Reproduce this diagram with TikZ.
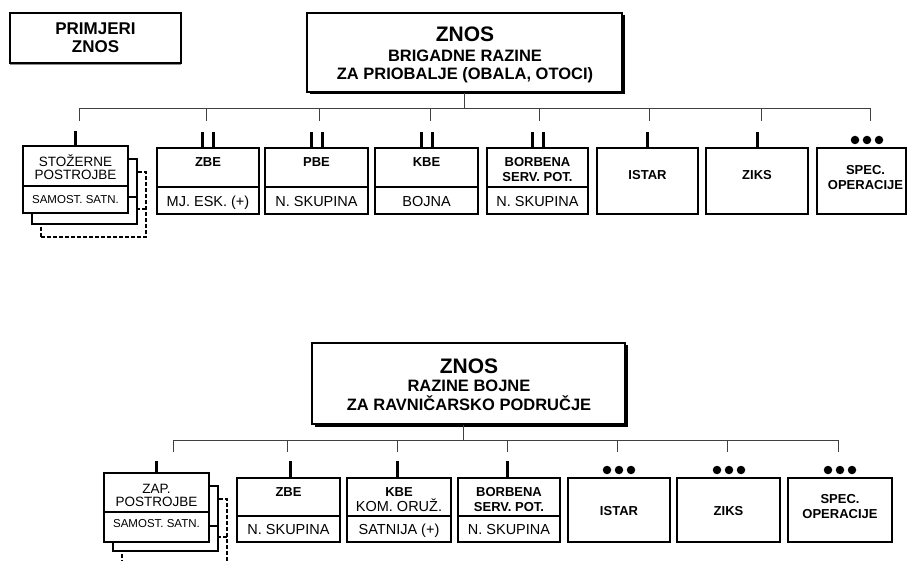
\documentclass[tikz,border=0pt]{standalone}
\usepackage{fontspec}
\setmainfont{Liberation Sans}
\usetikzlibrary{shadows}
\begin{document}
\begin{tikzpicture}[x=1pt,y=-1pt,
  box/.style={draw,rectangle,line width=1.8pt,fill=white,inner sep=0pt},
  stackback/.style={box,dash pattern=on 4pt off 2pt},
  bigbox/.style={box,line width=2pt,drop shadow={shadow xshift=2.5pt,shadow yshift=-2.5pt,opacity=1,fill=black}},
  divl/.style={line width=1.8pt},
  link/.style={draw=black!75,line width=0.9pt},
  tick/.style={line width=3pt},
  dot/.style={fill,circle,inner sep=0pt,minimum size=8.5pt},
  hd/.style={font=\fontsize{13}{15}\selectfont\bfseries,inner sep=0pt,anchor=base},
  lb/.style={font=\fontsize{14.5}{16}\selectfont,inner sep=0pt,anchor=base},
  st/.style={font=\fontsize{13.5}{16}\selectfont,inner sep=0pt,anchor=base},
  sm/.style={font=\fontsize{11.5}{13}\selectfont,inner sep=0pt,anchor=base},
  big/.style={font=\fontsize{21}{23}\selectfont\bfseries,inner sep=0pt,anchor=base},
  mid/.style={font=\fontsize{16.5}{19}\selectfont\bfseries,inner sep=0pt,anchor=base},
  prim/.style={font=\fontsize{17}{19}\selectfont\bfseries,inner sep=0pt,anchor=base}
]
\useasboundingbox[fill=white] (0,0) rectangle (908,561);

% ---------- legend box ----------
\node[box,line width=1.3pt,minimum width=171pt,minimum height=50pt,
  drop shadow={shadow xshift=0pt,shadow yshift=-2pt,opacity=1,fill=black!45}] (legend) at (95.5,38) {};
\node[prim] (legend1) at (95.5,35) {PRIMJERI};
\node[prim] (legend2) at (95.5,53) {ZNOS};

% ================= TOP CHART =================
\node[bigbox,minimum width=315pt,minimum height=79pt] (topmain) at (464.5,52.5) {};
\node[big] (tm1) at (465,41.7) {ZNOS};
\node[mid] (tm2) at (465,61.7) {BRIGADNE RAZINE};
\node[mid] (tm3) at (465,79.5) {ZA PRIOBALJE (OBALA, OTOCI)};

\coordinate (tbusL) at (79,108);
\coordinate (tbusR) at (870,108);
\draw[link] (topmain.south) -- (topmain.south |- tbusL);
\draw[link] (tbusL) -- (tbusR);
\foreach \x [count=\i] in {79,206,319,430,539,649,761,870}{
  \coordinate (td\i) at (\x,121);
  \draw[link] (td\i |- tbusL) -- (td\i);
}

% stacked box (top)
\node[stackback,minimum width=105pt,minimum height=65pt] (tstk3) at (93.5,204.5) {};
\draw[divl,dash pattern=on 4pt off 2pt] ([yshift=-38pt]tstk3.north west) -- ([yshift=-38pt]tstk3.north east);
\node[box,minimum width=105pt,minimum height=65pt] (tstk2) at (84.5,191.5) {};
\draw[divl] ([yshift=-39pt]tstk2.north west) -- ([yshift=-39pt]tstk2.north east);
\node[box,minimum width=105pt,minimum height=67pt] (tstk) at (75.5,179.5) {};
\draw[divl] ([yshift=-41pt]tstk.north west) -- ([yshift=-41pt]tstk.north east);
\draw[tick] (tstk.north) -- ++(0,-14);
\node[st] (tstk1) at (75.5,166.5) {STOŽERNE};
\node[st] (tstk1b) at (75.5,180) {POSTROJBE};
\node[sm] (tstkf) at (75.5,203.5) {SAMOST. SATN.};

% unit boxes (top)
\node[box,minimum width=102pt,minimum height=66pt] (tzbe) at (208,181) {};
\draw[divl] ([yshift=-40pt]tzbe.north west) -- ([yshift=-40pt]tzbe.north east);
\draw[tick] ([xshift=-5.5pt]tzbe.north) -- ++(0,-15);
\draw[tick] ([xshift=5.5pt]tzbe.north) -- ++(0,-15);
\node[hd] (tzbeh) at (208,167) {ZBE};
\node[lb] (tzbef) at (208,206.5) {MJ. ESK. (+)};

\node[box,minimum width=103pt,minimum height=66pt] (tpbe) at (316.5,181) {};
\draw[divl] ([yshift=-40pt]tpbe.north west) -- ([yshift=-40pt]tpbe.north east);
\draw[tick] ([xshift=-5.5pt]tpbe.north) -- ++(0,-15);
\draw[tick] ([xshift=5.5pt]tpbe.north) -- ++(0,-15);
\node[hd] (tpbeh) at (316.5,167) {PBE};
\node[lb] (tpbef) at (316.5,206.5) {N. SKUPINA};

\node[box,minimum width=103pt,minimum height=66pt] (tkbe) at (426.5,181) {};
\draw[divl] ([yshift=-40pt]tkbe.north west) -- ([yshift=-40pt]tkbe.north east);
\draw[tick] ([xshift=-5.5pt]tkbe.north) -- ++(0,-15);
\draw[tick] ([xshift=5.5pt]tkbe.north) -- ++(0,-15);
\node[hd] (tkbeh) at (426.5,167) {KBE};
\node[lb] (tkbef) at (426.5,206.5) {BOJNA};

\node[box,minimum width=101pt,minimum height=66pt] (tbsp) at (537.5,181) {};
\draw[divl] ([yshift=-40pt]tbsp.north west) -- ([yshift=-40pt]tbsp.north east);
\draw[tick] ([xshift=-5.5pt]tbsp.north) -- ++(0,-15);
\draw[tick] ([xshift=5.5pt]tbsp.north) -- ++(0,-15);
\node[hd] (tbsph) at (537.5,166.5) {BORBENA};
\node[hd] (tbsph2) at (537.5,181.5) {SERV. POT.};
\node[lb] (tbspf) at (537.5,206.5) {N. SKUPINA};

\node[box,minimum width=101pt,minimum height=66pt] (tist) at (647.5,181) {};
\draw[tick] (tist.north) -- ++(0,-15);
\node[hd] (tisth) at (647.5,180) {ISTAR};

\node[box,minimum width=102pt,minimum height=66pt] (tziks) at (757,181) {};
\draw[tick] (tziks.north) -- ++(0,-15);
\node[hd] (tziksh) at (757,180) {ZIKS};

\node[box,minimum width=89pt,minimum height=66pt] (tspec) at (861.5,181) {};
\node[dot] (tsd1) at (855,140) {};
\node[dot] (tsd2) at (867,140) {};
\node[dot] (tsd3) at (879,140) {};
\node[hd] (tspech) at (865.5,175) {SPEC.};
\node[hd] (tspech2) at (865.5,190) {OPERACIJE};

% ================= BOTTOM CHART =================
\node[bigbox,minimum width=313pt,minimum height=81pt] (botmain) at (468.5,383.5) {};
\node[big] (bm1) at (469,373.3) {ZNOS};
\node[mid] (bm2) at (469,391.7) {RAZINE BOJNE};
\node[mid] (bm3) at (469,410) {ZA RAVNIČARSKO PODRUČJE};

\coordinate (bbusL) at (173,440);
\coordinate (bbusR) at (838,440);
\draw[link] ([xshift=-5pt]botmain.south) -- ([xshift=-5pt]botmain.south |- bbusL);
\draw[link] (bbusL) -- (bbusR);
\foreach \x [count=\i] in {173,287,397,507,617,727,838}{
  \coordinate (bd\i) at (\x,452);
  \draw[link] (bd\i |- bbusL) -- (bd\i);
}

% stacked box (bottom)
\node[stackback,minimum width=105pt,minimum height=65pt] (bstk3) at (174.5,531.5) {};
\draw[divl,dash pattern=on 4pt off 2pt] ([yshift=-39pt]bstk3.north west) -- ([yshift=-39pt]bstk3.north east);
\node[box,minimum width=105pt,minimum height=65pt] (bstk2) at (165.5,518.5) {};
\draw[divl] ([yshift=-41pt]bstk2.north west) -- ([yshift=-41pt]bstk2.north east);
\node[box,minimum width=105pt,minimum height=69pt] (bstk) at (156.5,507.5) {};
\draw[divl] ([yshift=-40pt]bstk.north west) -- ([yshift=-40pt]bstk.north east);
\draw[tick] (bstk.north) -- ++(0,-11);
\node[st] (bstk1) at (156.5,493) {ZAP.};
\node[st] (bstk1b) at (156.5,506.5) {POSTROJBE};
\node[sm] (bstkf) at (156.5,527.5) {SAMOST. SATN.};

% unit boxes (bottom)
\node[box,minimum width=103pt,minimum height=64pt] (bzbe) at (288.5,510) {};
\draw[divl] ([yshift=-39pt]bzbe.north west) -- ([yshift=-39pt]bzbe.north east);
\draw[tick] ([xshift=1.5pt]bzbe.north) -- ++(0,-16);
\node[hd] (bzbeh) at (288.5,496) {ZBE};
\node[lb] (bzbef) at (288.5,534.3) {N. SKUPINA};

\node[box,minimum width=104pt,minimum height=64pt] (bkbe) at (399,510) {};
\draw[divl] ([yshift=-39pt]bkbe.north west) -- ([yshift=-39pt]bkbe.north east);
\draw[tick] ([xshift=-2pt]bkbe.north) -- ++(0,-16);
\node[hd] (bkbeh) at (399,496) {KBE};
\node[lb] (bkbeh2) at (399,511.7) {KOM. ORUŽ.};
\node[lb] (bkbef) at (399,534.3) {SATNIJA (+)};

\node[box,minimum width=102pt,minimum height=64pt] (bbsp) at (509,510) {};
\draw[divl] ([yshift=-39pt]bbsp.north west) -- ([yshift=-39pt]bbsp.north east);
\draw[tick] ([xshift=-2pt]bbsp.north) -- ++(0,-16);
\node[hd] (bbsph) at (509,496) {BORBENA};
\node[hd] (bbsph2) at (509,511.7) {SERV. POT.};
\node[lb] (bbspf) at (509,534.3) {N. SKUPINA};

\node[box,minimum width=102pt,minimum height=64pt] (bist) at (619,510) {};
\node[dot] (bid1) at (607,470) {};
\node[dot] (bid2) at (619,470) {};
\node[dot] (bid3) at (631,470) {};
\node[hd] (bisth) at (619,515) {ISTAR};

\node[box,minimum width=103pt,minimum height=64pt] (bziks) at (728.5,510) {};
\node[dot] (bzd1) at (717,470) {};
\node[dot] (bzd2) at (729,470) {};
\node[dot] (bzd3) at (741,470) {};
\node[hd] (bziksh) at (728.5,515) {ZIKS};

\node[box,minimum width=104pt,minimum height=64pt] (bspec) at (840,510) {};
\node[dot] (bsd1) at (828,470) {};
\node[dot] (bsd2) at (840,470) {};
\node[dot] (bsd3) at (852,470) {};
\node[hd] (bspech) at (840,503.3) {SPEC.};
\node[hd] (bspech2) at (840,518.3) {OPERACIJE};
\end{tikzpicture}
\end{document}
